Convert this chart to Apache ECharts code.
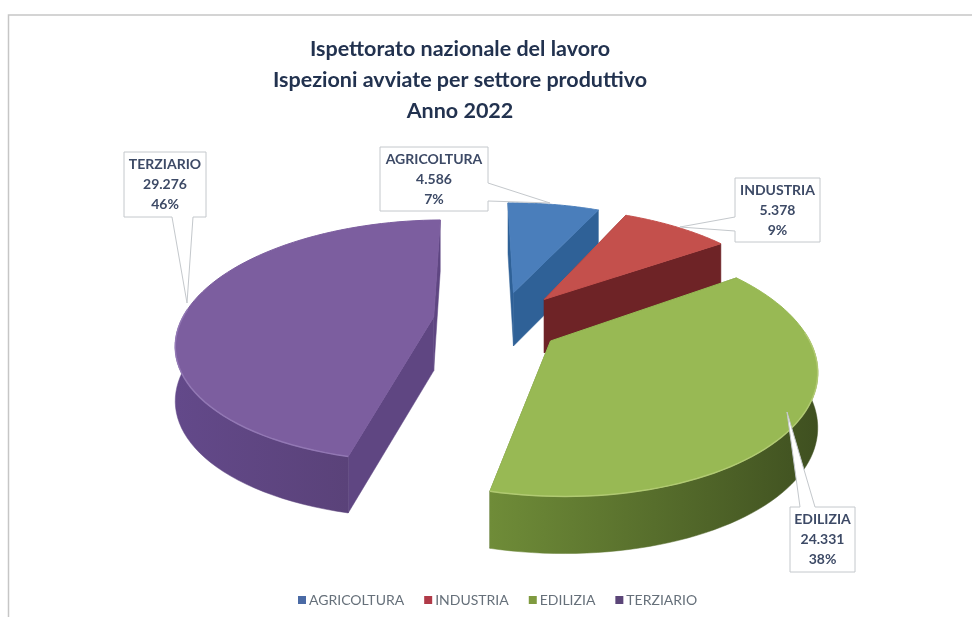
<!DOCTYPE html>
<html><head><meta charset="utf-8">
<style>html,body{margin:0;padding:0;background:#fff}#c{width:972px;height:617px}</style>
<script src="https://cdn.jsdelivr.net/npm/echarts@6/dist/echarts.min.js"></script>
</head><body><div id="c"></div>
<script>
var categories = ['AGRICOLTURA', 'INDUSTRIA', 'EDILIZIA', 'TERZIARIO'];
var values = [4586, 5378, 24331, 29276];
var valueLabels = ['4.586', '5.378', '24.331', '29.276'];
var percentLabels = ['7%', '9%', '38%', '46%'];
var titleText = 'Ispettorato nazionale del lavoro\nIspezioni avviate per settore produttivo\nAnno 2022';

// styles
var legendColors = ['#4a6aa5', '#b03a48', '#7f9a3f', '#5b4578'];
var topColors = ['#4a7ebb', '#c4504c', '#98b954', '#7c5e9f'];
var rimColors = ['#6f9bd1', '#d97b77', '#b9d07c', '#9a80bb'];
var cutColors = ['#2f6197', '#6e2326', '#4a5f28', '#5f4682'];
var wallStops = [
  ['#2f6197', '#2f6197'],
  ['#6e2326', '#7a2729'],
  ['#6f8c38', '#3f5020'],
  ['#63498a', '#5a4279']
];
// 3D projection of the pie
var view = {cx: 496, cy: 321, r: 252, tilt: 0.465, persp: 0.197, explode: 0.25, depth: 54, firstAngle: -1};
// small per-slice screen offsets [dx, dy] for the exploded wedges
var sliceNudge = [[5, -1], [9, 0], [1, 3], [0, -1]];
// callouts: box x,y,w,h, wedge base a,b and tip
var callouts = [
  {box: [380, 147, 108, 64], base: [[488, 183], [488, 201]], tip: [550, 203]},
  {box: [735, 178, 85, 64], base: [[735, 217], [735, 231]], tip: [680, 227]},
  {box: [790, 507, 65, 65], base: [[800, 507], [815, 507]], tip: [787, 412]},
  {box: [124, 152, 82, 65], base: [[172, 217], [193, 217]], tip: [187, 303]}
];

var total = values.reduce(function (a, b) { return a + b; }, 0);
function project(X, Z, down, nudge) {
  var s = 1 / (1 - view.persp * Z);
  return [
    view.cx + nudge[0] + view.r * X * s,
    view.cy + nudge[1] + view.r * view.tilt * Z * s + (down ? view.depth * (1 + 0.05 * Z) : 0)
  ];
}
function sliceAngles(i) {
  var start = view.firstAngle, j;
  for (j = 0; j < i; j++) start += values[j] / total * 360;
  return [start, start + values[i] / total * 360];
}
function pt(angleDeg) {
  var a = angleDeg * Math.PI / 180;
  return [Math.sin(a), -Math.cos(a)];
}
function sliceGeometry(i) {
  var ang = sliceAngles(i), mid = pt((ang[0] + ang[1]) / 2), nudge = sliceNudge[i];
  var ox = mid[0] * view.explode, oz = mid[1] * view.explode;
  var arcTop = [], arcBot = [], frontTop = [], frontBot = [], n = 72, k;
  for (k = 0; k <= n; k++) {
    var p = pt(ang[0] + (ang[1] - ang[0]) * k / n);
    var t = project(ox + p[0], oz + p[1], false, nudge), b = project(ox + p[0], oz + p[1], true, nudge);
    arcTop.push(t);
    arcBot.push(b);
    if (p[1] > -0.08) { frontTop.push(t); frontBot.push(b); }
  }
  return {apexTop: project(ox, oz, false, nudge), apexBot: project(ox, oz, true, nudge),
          arcTop: arcTop, arcBot: arcBot, frontTop: frontTop, frontBot: frontBot};
}
function renderSlice(i) {
  return function () {
    var g = sliceGeometry(i), last = g.arcTop.length - 1, children = [];
    var top = [g.apexTop].concat(g.arcTop);
    var cutA = [g.apexTop, g.arcTop[0], g.arcBot[0], g.apexBot];
    var cutB = [g.apexTop, g.arcTop[last], g.arcBot[last], g.apexBot];
    children.push({type: 'polygon', shape: {points: cutA}, style: {fill: cutColors[i], stroke: cutColors[i], lineWidth: 0.5}});
    children.push({type: 'polygon', shape: {points: cutB}, style: {fill: cutColors[i], stroke: cutColors[i], lineWidth: 0.5}});
    if (g.frontTop.length > 1) {
      var wallFill = new echarts.graphic.LinearGradient(0, 0, 1, 0, [
        {offset: 0, color: wallStops[i][0]}, {offset: 1, color: wallStops[i][1]}
      ]);
      children.push({type: 'polygon', shape: {points: g.frontTop.concat(g.frontBot.slice().reverse())},
        style: {fill: wallFill, stroke: wallFill, lineWidth: 0.5}});
    }
    children.push({type: 'polygon', shape: {points: top}, style: {fill: topColors[i], stroke: topColors[i], lineWidth: 1}});
    if (g.frontTop.length > 1) {
      children.push({type: 'polyline', shape: {points: g.frontTop},
        style: {stroke: rimColors[i], lineWidth: 1.5, opacity: 0.75, fill: null}});
    }
    return {type: 'group', children: children};
  };
}
function renderCallout(params) {
  var i = params.dataIndex, c = callouts[i], b = c.box;
  var outline = [[b[0], b[1]], [b[0] + b[2], b[1]], [b[0] + b[2], b[1] + b[3]], [b[0], b[1] + b[3]]];
  var poly;
  if (c.base[0][0] === c.base[1][0] && c.base[0][0] === b[0] + b[2]) {
    poly = [outline[0], outline[1], c.base[0], c.tip, c.base[1], outline[2], outline[3]];
  } else if (c.base[0][0] === c.base[1][0]) {
    poly = [outline[0], outline[1], outline[2], outline[3], c.base[1], c.tip, c.base[0]];
  } else if (c.base[0][1] === b[1]) {
    poly = [outline[0], c.base[0], c.tip, c.base[1], outline[1], outline[2], outline[3]];
  } else {
    poly = [outline[0], outline[1], outline[2], c.base[1], c.tip, c.base[0], outline[3]];
  }
  return {type: 'group', children: [
    {type: 'polygon', shape: {points: poly}, style: {fill: '#ffffff', stroke: '#c4c8cc', lineWidth: 1}},
    {type: 'text', style: {
      x: b[0] + b[2] / 2, y: b[1] + b[3] / 2,
      text: categories[i] + '\n' + valueLabels[i] + '\n' + percentLabels[i],
      align: 'center', verticalAlign: 'middle',
      font: 'bold 14px Lato', lineHeight: 20, fill: '#3d4a66'
    }}
  ]};
}

var series = categories.map(function (name, i) {
  return {
    type: 'custom', name: name, coordinateSystem: 'none', z: 2 + i,
    data: [[values[i]]], itemStyle: {color: legendColors[i]},
    renderItem: renderSlice(i), silent: true, animation: false
  };
});
series.push({
  type: 'custom', name: 'etichette', coordinateSystem: 'none', z: 20,
  data: values.map(function (v) { return [v]; }),
  renderItem: renderCallout, silent: true, animation: false
});

var chart = echarts.init(document.getElementById('c'), null, {renderer: 'canvas'});
chart.setOption({
  animation: false,
  backgroundColor: '#ffffff',
  title: {
    text: titleText, left: 455, top: 29, textAlign: 'center',
    textStyle: {fontFamily: 'Lato', fontWeight: 'bold', fontSize: 21.5, lineHeight: 31, color: '#22324f'}
  },
  legend: {
    data: categories, left: 293, top: 588, itemGap: 20, itemWidth: 8, itemHeight: 8, icon: 'rect',
    textStyle: {fontFamily: 'Lato', fontSize: 14, color: '#66707a', padding: [0, 0, 0, -2]}
  },
  series: series,
  graphic: [{
    type: 'polyline', silent: true, z: 0,
    shape: {points: [[8.5, 617], [8.5, 15], [972, 15]]},
    style: {stroke: '#c6c6c6', lineWidth: 1.5, fill: null}
  }]
});
</script></body></html>
